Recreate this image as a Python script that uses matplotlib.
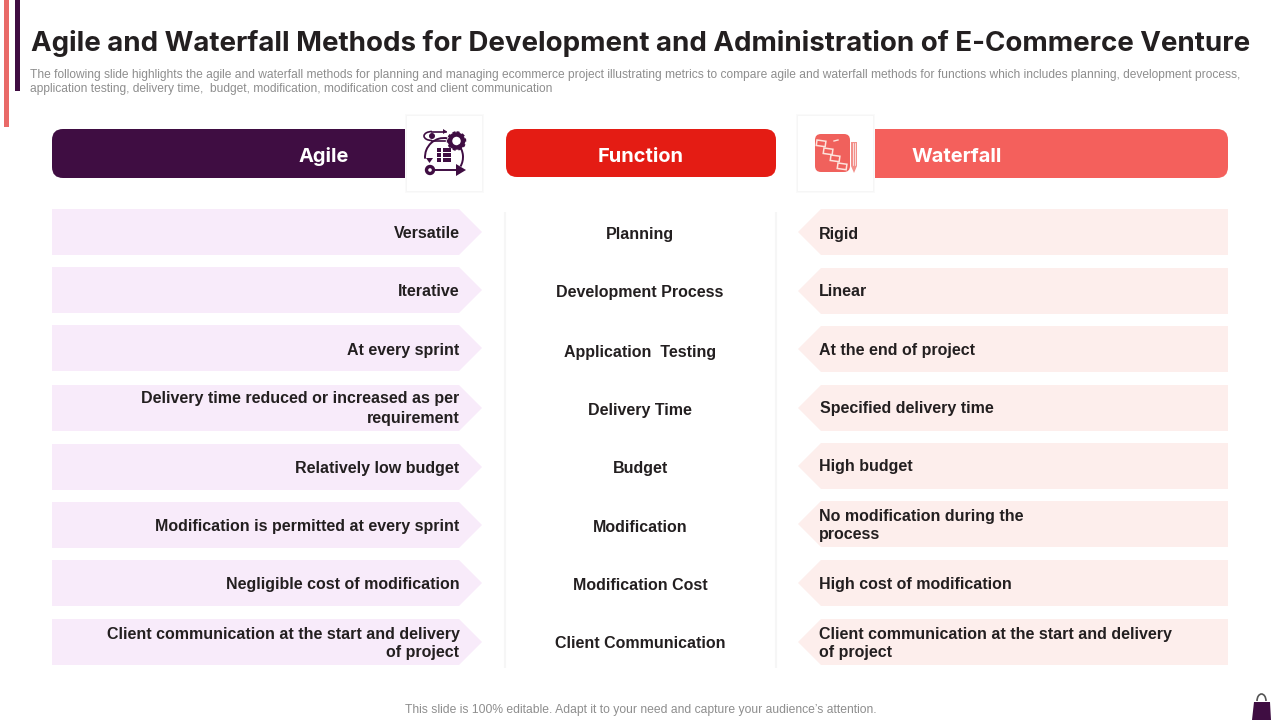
import matplotlib
matplotlib.use('Agg')
import matplotlib.pyplot as plt
from matplotlib.patches import Rectangle, FancyBboxPatch, Polygon, Circle, Arc

TITLE = "Agile and Waterfall Methods for Development and Administration of E-Commerce Venture"
SUBTITLE = ["The following slide highlights the agile and waterfall methods for planning and managing ecommerce project illustrating metrics to compare agile and waterfall methods for functions which includes planning, development process,",
            "application testing, delivery time,  budget, modification, modification cost and client communication"]
FOOTER = "This slide is 100% editable. Adapt it to your need and capture your audience\u2019s attention."
HEADERS = ["Agile", "Function", "Waterfall"]
AGILE = [["Versatile"], ["Iterative"], ["At every sprint"],
         ["Delivery time reduced or increased as per", "requirement"],
         ["Relatively low budget"], ["Modification is permitted at every sprint"],
         ["Negligible cost of modification"],
         ["Client communication at the start and delivery", "of project"]]
FUNCTION = ["Planning", "Development Process", "Application  Testing", "Delivery Time",
            "Budget", "Modification", "Modification Cost", "Client Communication"]
WATERFALL = [["Rigid"], ["Linear"], ["At the end of project"], ["Specified delivery time"],
             ["High budget"], ["No modification during the", "process"],
             ["High cost of modification"],
             ["Client communication at the start and delivery", "of project"]]

# layout (pixels)
AGILE_TOP = [209, 267, 325, 385, 444, 502, 560, 619]
WATER_TOP = [209, 268, 326, 385, 443, 501, 560, 619]
AGILE_TY = [233, 291, 349, 407.5, 467, 525, 583, 642.5]
FUNC_TY = [233, 292, 351, 409, 468, 526, 585, 643]
WATER_TY = [233, 291, 350, 408, 466, 524.5, 583, 642.5]
WATER_TX = [819, 819, 819, 820, 819, 819, 819, 819]
ROW_H = 46

DARK, RED, CORAL = '#3f0d42', '#e41c14', '#f4605c'
LILAC, BLUSH, INK = '#f8ebfa', '#fdeeec', '#231f20'

fig = plt.figure(figsize=(12.8, 7.2), dpi=100, facecolor='white')
ax = fig.add_axes([0, 0, 1, 1])
ax.set_xlim(0, 1280); ax.set_ylim(720, 0); ax.axis('off')

BODY = ['Liberation Sans', 'DejaVu Sans']
HEAD = ['Inter', 'DejaVu Sans']
def txt(x, y, s, size, color=INK, weight='bold', ha='left', family=BODY, z=6):
    return ax.text(x, y, s, fontsize=size, color=color, fontweight=weight, ha=ha,
                   va='center_baseline', family=family, zorder=z)
def rbox(x, y, w, h, r, color, z=2):
    ax.add_patch(FancyBboxPatch((x + r, y + r), w - 2 * r, h - 2 * r,
                                boxstyle=f'round,pad={r},rounding_size={r}', fc=color, ec='none', zorder=z))

# accent bars
ax.add_patch(Rectangle((4, 0), 5, 127, fc='#e96a68', ec='none'))
ax.add_patch(Rectangle((15, 0), 5, 91, fc=DARK, ec='none'))

txt(31, 40.5, TITLE, 19.95, family=HEAD)
txt(30, 73.5, SUBTITLE[0], 8.65, color='#8e8e8e', weight='normal')
txt(30, 87.5, SUBTITLE[1], 8.65, color='#8e8e8e', weight='normal')
txt(640.5, 708.5, FOOTER, 8.7, color='#8e8e8e', weight='normal', ha='center')

# headers
rbox(52, 129, 380, 49, 11, DARK)
rbox(506, 129, 270, 48, 11, RED)
rbox(820, 129, 408, 49, 11, CORAL)
for x, s in zip((323.5, 640.5, 956.5), HEADERS):
    txt(x, 154.5, s, 14.4, color='white', ha='center', family=HEAD)

# icon cards
for x0 in (407, 798):
    for i, a in ((2, '#fafafa'), (1, '#f6f6f6')):
        ax.add_patch(Rectangle((x0 - i, 116 - i), 75 + 2 * i, 75 + 2 * i, fc=a, ec='none', zorder=3))
    ax.add_patch(Rectangle((x0, 116), 75, 75, fc='white', ec='none', zorder=4))

# agile icon
c = dict(zorder=5)
ax.add_patch(Circle((456.5, 141), 6.5, fc='none', ec=DARK, lw=3.2, **c))
ax.add_patch(Circle((456.5, 141), 8.5, fc='none', ec=DARK, lw=1.8, ls=(0, (1.2, 1)), **c))
ax.add_patch(Circle((430, 170), 3.5, fc='white', ec=DARK, lw=2.4, **c))
ax.add_patch(Polygon([[456, 164], [466, 170], [456, 176]], fc=DARK, ec='none', **c))
ax.plot([434, 458], [170, 170], color=DARK, lw=1.4, zorder=5)
ax.add_patch(Arc((432, 136), 16, 9, theta1=90, theta2=270, ec=DARK, lw=1.2, **c))
ax.plot([432, 446], [131.5, 131.5], color=DARK, lw=1.2, zorder=5)
ax.plot([432, 445], [140.5, 140.5], color=DARK, lw=1.2, zorder=5)
ax.add_patch(Polygon([[443, 129], [447, 131.5], [443, 134]], fc=DARK, ec='none', **c))
ax.add_patch(Circle((432, 136), 3, fc=DARK, ec='none', **c))
ax.add_patch(Arc((444, 157), 38, 38, theta1=-40, theta2=30, ec=DARK, lw=1.4, **c))
ax.add_patch(Arc((444, 157), 38, 38, theta1=175, theta2=280, ec=DARK, lw=1.4, **c))
ax.add_patch(Polygon([[426, 158], [433, 158], [429.5, 163]], fc=DARK, ec='none', **c))
for yy in (150, 155, 160):
    ax.add_patch(Rectangle((437, yy - 1.8), 4, 3.8, fc=DARK, ec='none', **c))
    ax.add_patch(Rectangle((443, yy - 1.8), 8, 3.8, fc=DARK, ec='none', **c))

# waterfall icon
rbox(815, 134, 35, 38, 6, '#f0615c', z=5)
for bx, by in ((817, 143), (824, 151), (831, 158), (838, 166)):
    ax.add_patch(Rectangle((bx, by - 3), 9, 5.5, angle=8, fc='#f0615c', ec='#fde3dc', lw=1.1, zorder=6))
ax.add_patch(Polygon([[851, 142], [857, 142], [857, 166], [854, 173], [851, 166]],
                     fc='#f2908a', ec='none', zorder=5))
ax.plot([853, 853], [143, 165], color='white', lw=.5, zorder=6)
ax.plot([855, 855], [143, 165], color='white', lw=.5, zorder=6)
ax.plot([834, 838], [141, 140], color='#fde3dc', lw=1, zorder=6)

# faint column separators
for x0 in (504.5, 776):
    ax.plot([x0, x0], [212, 668], color='#f6f6f6', lw=1.5, zorder=1, solid_capstyle='butt')

# rows
for top in AGILE_TOP:
    ax.add_patch(Polygon([[52, top], [459, top], [482, top + ROW_H / 2], [459, top + ROW_H], [52, top + ROW_H]],
                         fc=LILAC, ec='none', zorder=2))
for top in WATER_TOP:
    ax.add_patch(Polygon([[1228, top], [821, top], [798, top + ROW_H / 2], [821, top + ROW_H], [1228, top + ROW_H]],
                         fc=BLUSH, ec='none', zorder=2))

def block(x, yc, lines, ha):
    n = len(lines)
    for i, s in enumerate(lines):
        txt(x, yc + (i - (n - 1) / 2) * 19, s, 11.5, ha=ha)

for lines, y in zip(AGILE, AGILE_TY):
    block(459.5, y - 0.5, lines, 'right')
for s, y in zip(FUNCTION, FUNC_TY):
    block(640, y - 0.5, [s], 'center')
for lines, y, x in zip(WATERFALL, WATER_TY, WATER_TX):
    block(x, y - 0.5, lines, 'left')

# bag
ax.add_patch(Polygon([[1254, 702], [1270, 702], [1271, 720], [1252, 720]], fc=DARK, ec='none'))
ax.add_patch(Arc((1261.5, 701), 9, 14, theta1=180, theta2=360, ec='#555555', lw=1.2))

fig.savefig('out.png', dpi=100, facecolor='white')
